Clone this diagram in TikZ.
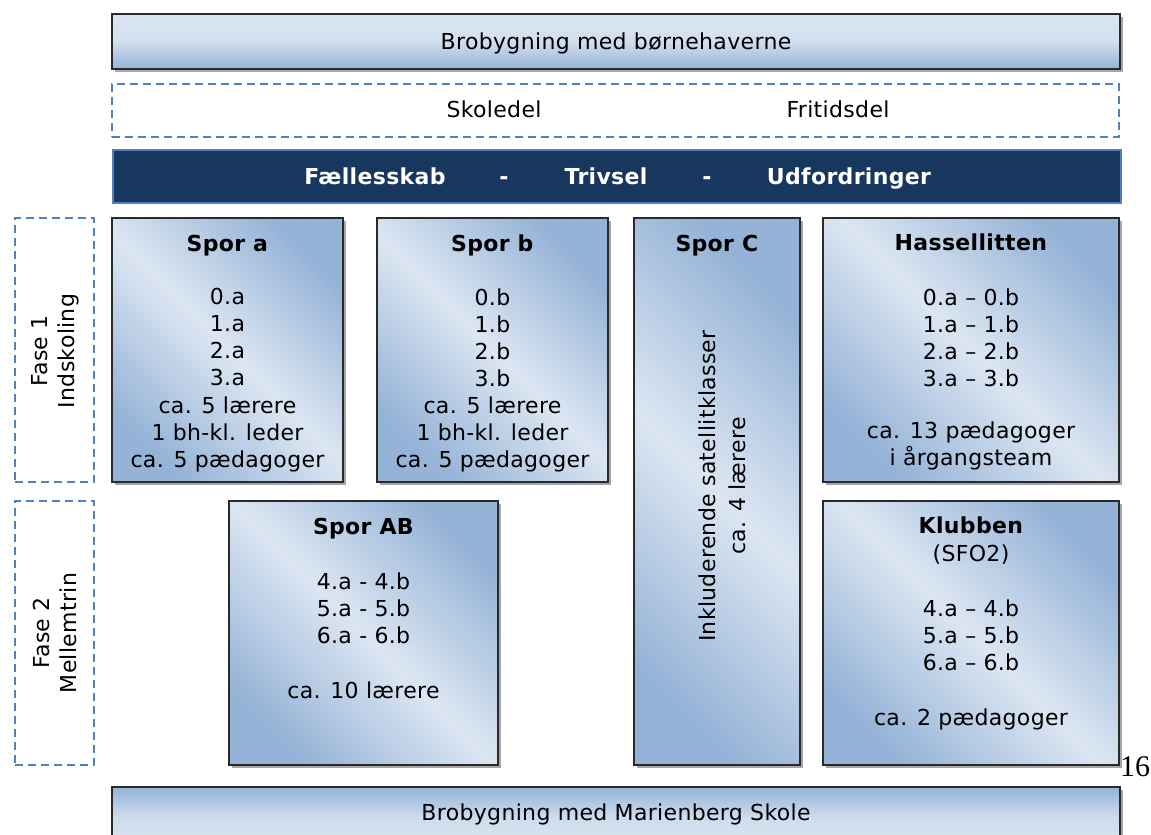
\documentclass[tikz,border=0pt]{standalone}
\usepackage{fontspec}
\setmainfont{DejaVu Sans}[LetterSpace=1.5]
\newfontfamily\pagenumfont{Liberation Serif}
\usetikzlibrary{shadows}
\definecolor{lightblue}{HTML}{DCE6F2}
\definecolor{midblue}{HTML}{95B3D7}
\definecolor{navy}{HTML}{17375E}
\definecolor{dashblue}{HTML}{4F81BD}
\definecolor{frame}{HTML}{2A2A2A}
\tikzset{
  base/.style={rectangle, inner sep=0pt, outer sep=0pt, anchor=north west},
  shadowed/.style={drop shadow={shadow xshift=3pt, shadow yshift=-3pt, fill=black!35, opacity=1}},
  sporbox/.style={base, draw=frame, line width=2.6pt, shadowed,
    top color=midblue, bottom color=midblue, middle color=lightblue, shading angle=-45},
  barbox/.style={base, draw=frame, line width=2.6pt, shadowed},
  dashbox/.style={base, draw=dashblue, line width=2.4pt, dash pattern=on 8pt off 5pt},
  darkbox/.style={base, draw=dashblue, line width=2pt, fill=navy},
  txt/.style={font=\fontsize{22}{27.1}\selectfont, align=center, inner sep=0pt, anchor=north},
  single/.style={font=\fontsize{22}{27.1}\selectfont, inner sep=0pt, anchor=base},
  whitetxt/.style={font=\fontsize{22}{27.1}\selectfont\bfseries, text=white, inner sep=0pt, anchor=base},
}
\begin{document}
\begin{tikzpicture}[x=1pt,y=-1pt]
\useasboundingbox (0,0) rectangle (1151,835);

% top bar
\node[barbox, top color=lightblue, bottom color=midblue, middle color=lightblue!85!midblue, minimum width=1008pt, minimum height=55pt] (topbar) at (112,14) {};
\node[single] (toptext) at (616,49) {Brobygning med børnehaverne};

% dashed school/leisure box
\node[dashbox, minimum width=1007pt, minimum height=53pt] (skolebox) at (112,84) {};
\node[single] (skoledel) at (494,117) {Skoledel};
\node[single] (fritidsdel) at (838,117) {Fritidsdel};

% dark bar
\node[darkbox, minimum width=1008pt, minimum height=53pt] (darkbar) at (113,150) {};
\node[whitetxt] (w1) at (375,184) {Fællesskab};
\node[whitetxt] (d1) at (504,184) {-};
\node[whitetxt] (w2) at (606,184) {Trivsel};
\node[whitetxt] (d2) at (707,184) {-};
\node[whitetxt] (w3) at (849,184) {Udfordringer};

% phase boxes
\node[dashbox, minimum width=79pt, minimum height=264pt] (fase1) at (15,218) {};
\node[txt, rotate=90, anchor=center] (fase1t) at (55,351) {Fase 1\\Indskoling};
\node[dashbox, minimum width=79pt, minimum height=264pt] (fase2) at (15,501) {};
\node[txt, rotate=90, anchor=center] (fase2t) at (55,633) {Fase 2\\Mellemtrin};

% Spor a
\node[sporbox, minimum width=231pt, minimum height=264pt] (spora) at (112,218) {};
\node[txt] (sporat) at (227.5,235) {\textbf{Spor a}\\[26pt]0.a\\1.a\\2.a\\3.a\\ca. 5 lærere\\1 bh-kl. leder\\ca. 5 pædagoger};

% Spor b
\node[sporbox, minimum width=231pt, minimum height=264pt] (sporb) at (377,218) {};
\node[txt] (sporbt) at (492.5,235) {\textbf{Spor b}\\[26pt]0.b\\1.b\\2.b\\3.b\\ca. 5 lærere\\1 bh-kl. leder\\ca. 5 pædagoger};

% Spor C
\node[sporbox, minimum width=166pt, minimum height=547pt] (sporc) at (634,218) {};
\node[txt] (sporct) at (717,235) {\textbf{Spor C}};
\node[txt, rotate=90, anchor=center] (sporcv) at (722,486) {Inkluderende satellitklasser\\[3pt]ca. 4 lærere};

% Hassellitten
\node[sporbox, minimum width=296pt, minimum height=264pt] (hassel) at (823,218) {};
\node[txt] (hasselt) at (971,234) {\textbf{Hassellitten}\\[27pt]0.a – 0.b\\1.a – 1.b\\2.a – 2.b\\3.a – 3.b\\[25pt]ca. 13 pædagoger\\i årgangsteam};

% Spor AB
\node[sporbox, minimum width=269pt, minimum height=264pt] (sporab) at (229,501) {};
\node[txt] (sporabt) at (363.5,518) {\textbf{Spor AB}\\[28pt]4.a - 4.b\\5.a - 5.b\\6.a - 6.b\\[28pt]ca. 10 lærere};

% Klubben
\node[sporbox, minimum width=296pt, minimum height=264pt] (klub) at (823,501) {};
\node[txt] (klubt) at (971,517) {\textbf{Klubben}\\(SFO2)\\[28pt]4.a – 4.b\\5.a – 5.b\\6.a – 6.b\\[28pt]ca. 2 pædagoger};

% page number
\node[font=\pagenumfont\fontsize{30}{30}\selectfont, inner sep=0pt, anchor=base] (pagenum) at (1135,776) {16};

% bottom bar
\node[barbox, top color=midblue, bottom color=lightblue, middle color=lightblue!80!midblue, minimum width=1008pt, minimum height=60pt] (botbar) at (112,787) {};
\node[single] (bottext) at (616,820) {Brobygning med Marienberg Skole};
\end{tikzpicture}
\end{document}
